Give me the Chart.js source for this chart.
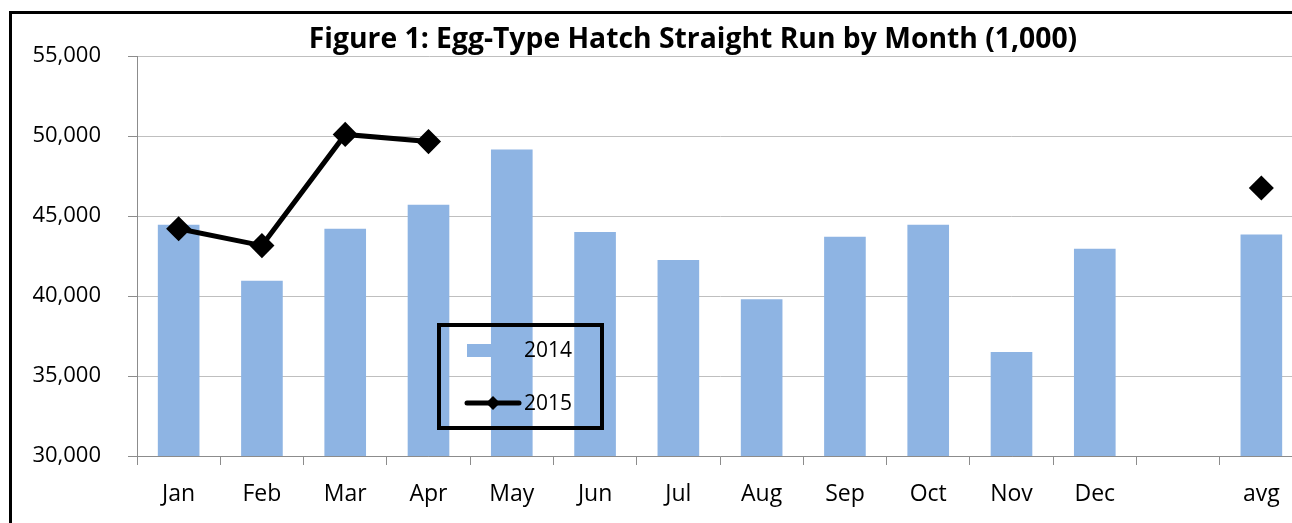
<!DOCTYPE html>
<html>
<head>
<meta charset="utf-8">
<script src="https://cdn.jsdelivr.net/npm/chart.js@4.4.0/dist/chart.umd.min.js"></script>
<style>
  html, body { margin: 0; padding: 0; background: #fff; overflow: hidden; }
  #wrap { position: absolute; left: 0; top: 0; width: 1292px; height: 523px; overflow: hidden; }
  #myChart { position: absolute; left: 0; top: 0; }
</style>
</head>
<body>
<div id="wrap"><canvas id="myChart" width="1320" height="523"></canvas></div>
<script>
// Chart data
var categories = ['Jan', 'Feb', 'Mar', 'Apr', 'May', 'Jun', 'Jul', 'Aug', 'Sep', 'Oct', 'Nov', 'Dec', '', 'avg'];
var hatch2014 = [44450, 40950, 44200, 45700, 49150, 44000, 42250, 39800, 43700, 44450, 36500, 42950, null, 43850];
var hatch2015 = [44200, 43150, 50100, 49650, null, null, null, null, null, null, null, null, null, 46750];
var yTicks = [30000, 35000, 40000, 45000, 50000, 55000];
var titleText = 'Figure 1: Egg-Type Hatch Straight Run by Month (1,000)';

var FONT = '"Open Sans", sans-serif';
var barColor = '#8EB4E3';

// frame + title + legend drawn by hand, like the spreadsheet chart
var decorations = {
  id: 'decorations',
  beforeDraw: function(chart) {
    var ctx = chart.ctx;
    ctx.save();
    ctx.fillStyle = '#fff';
    ctx.fillRect(0, 0, chart.width, chart.height);
    ctx.restore();
  },
  afterDraw: function(chart) {
    var ctx = chart.ctx;
    var bars = chart.data.datasets[1];
    var line = chart.data.datasets[0];
    ctx.save();
    // outer frame (left and top only, the rest is cut off)
    ctx.strokeStyle = '#000';
    ctx.lineWidth = 3;
    ctx.beginPath();
    ctx.moveTo(10.5, chart.height + 5);
    ctx.lineTo(10.5, 12.5);
    ctx.lineTo(chart.width + 5, 12.5);
    ctx.stroke();

    // title
    ctx.fillStyle = '#000';
    ctx.font = 'bold 28.3px ' + FONT;
    ctx.textAlign = 'center';
    ctx.textBaseline = 'middle';
    ctx.fillText(titleText, 693, 40);

    // legend
    ctx.lineWidth = 4;
    ctx.strokeRect(439, 325, 163, 103);
    ctx.fillStyle = bars.backgroundColor;
    ctx.fillRect(467, 344, 52, 13);
    ctx.strokeStyle = line.borderColor;
    ctx.lineWidth = 5;
    ctx.lineCap = 'round';
    ctx.beginPath();
    ctx.moveTo(467, 403);
    ctx.lineTo(519, 403);
    ctx.stroke();
    ctx.fillStyle = line.pointBackgroundColor;
    ctx.beginPath();
    ctx.moveTo(493, 396);
    ctx.lineTo(500, 403);
    ctx.lineTo(493, 410);
    ctx.lineTo(486, 403);
    ctx.closePath();
    ctx.fill();
    ctx.fillStyle = '#000';
    ctx.font = '21px ' + FONT;
    ctx.textAlign = 'left';
    ctx.fillText(bars.label, 524, 351);
    ctx.fillText(line.label, 524, 404);
    ctx.restore();
  }
};

var ctx = document.getElementById('myChart').getContext('2d');

var myChart = new Chart(ctx, {
  type: 'bar',
  data: {
    labels: categories,
    datasets: [{
      type: 'line',
      label: '2015',
      data: hatch2015,
      borderColor: '#000',
      borderWidth: 5,
      pointStyle: 'rectRot',
      pointRadius: 9,
      pointBackgroundColor: '#000',
      pointBorderColor: '#000',
      spanGaps: false,
      order: 0
    }, {
      label: '2014',
      data: hatch2014,
      backgroundColor: barColor,
      borderWidth: 0,
      categoryPercentage: 0.5,
      barPercentage: 1,
      order: 1
    }]
  },
  plugins: [decorations],
  options: {
    responsive: false,
    animation: false,
    layout: { padding: { left: 0, top: 56, right: 17, bottom: 0 } },
    plugins: {
      legend: { display: false },
      title: { display: false },
      tooltip: { enabled: false }
    },
    scales: {
      x: {
        afterFit: function(axis) { axis.height = 67; },
        grid: {
          offset: true,
          drawOnChartArea: false,
          drawTicks: true,
          tickLength: 9,
          color: '#8c8c8c'
        },
        border: { color: '#8c8c8c', width: 1 },
        ticks: {
          color: '#000',
          padding: 16,
          font: { family: FONT, size: 23 }
        }
      },
      y: {
        min: 30000,
        max: 55000,
        afterFit: function(axis) { axis.width = 137; },
        afterBuildTicks: function(axis) {
          axis.ticks = yTicks.map(function(v) { return { value: v }; });
        },
        grid: {
          color: '#bfbfbf',
          tickLength: 9,
          tickColor: '#8c8c8c'
        },
        border: { color: '#8c8c8c', width: 1 },
        ticks: {
          color: '#000',
          padding: 27,
          font: { family: FONT, size: 22 },
          callback: function(value) { return value.toLocaleString('en-US'); }
        }
      }
    }
  }
});
</script>
</body>
</html>
